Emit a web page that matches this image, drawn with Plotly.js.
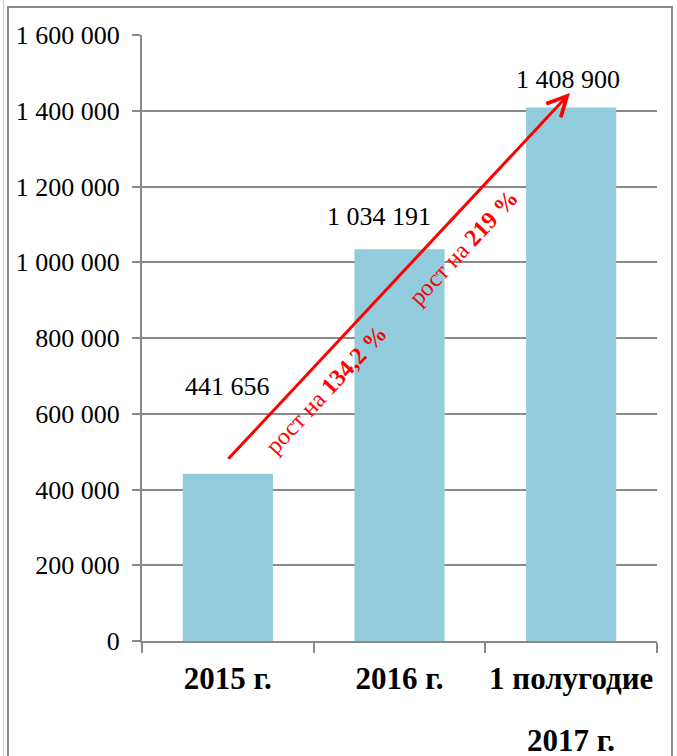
<!DOCTYPE html>
<html>
<head>
<meta charset="utf-8">
<script src="https://cdn.plot.ly/plotly-3.0.1.min.js"></script>
<style>
  body { margin: 0; background: #fff; }
  #wrap { position: relative; width: 677px; height: 756px; }
  #chart { width: 677px; height: 756px; }
  .frame { position: absolute; pointer-events: none; }
</style>
</head>
<body>
<div id="wrap">
  <div id="chart"></div>
  <div class="frame" style="left:3px;top:0;width:1px;height:756px;background:#c8c8c8"></div>
  <div class="frame" style="left:7px;top:6px;width:2px;height:750px;background:#8a8a8a"></div>
  <div class="frame" style="left:7px;top:6px;width:666px;height:2px;background:#8a8a8a"></div>
  <div class="frame" style="left:671px;top:6px;width:2px;height:750px;background:#8a8a8a"></div>
</div>
<script>
// categories and values
const categories = ["2015 г.", "2016 г.", "1 полугодие 2017 г."];
const labelLine1 = ["2015 г.", "2016 г.", "1 полугодие"];
const labelLine2 = ["", "", "2017 г."];
const values = [441656, 1034191, 1408900];
const growthTexts = ["рост на <b>134,2 %</b>", "рост на <b>219 %</b>"];

const serif = "Liberation Serif";

const fmt = v => v.toString().replace(/\B(?=(\d{3})+(?!\d))/g, " ");

const showChart = () => {
    const data = [{
        x: categories,
        y: values,
        type: "bar",
        width: 0.525,
        marker: { color: "#93CDDD" },
        hoverinfo: "skip"
    }];

    // data labels (moved by hand in the original)
    const labelShift = [[0, 71], [-21, 16], [-3, 11]];
    const annotations = values.map((v, i) => ({
        x: categories[i], y: v, xref: "x", yref: "y",
        text: fmt(v), showarrow: false, yanchor: "bottom",
        xshift: labelShift[i][0], yshift: labelShift[i][1],
        font: { family: serif, size: 26, color: "#000" }
    }));

    // second line of category labels
    labelLine2.forEach((t, i) => {
        if (!t) return;
        annotations.push({
            x: categories[i], y: 0, xref: "x", yref: "y",
            text: "<b>" + t + "</b>", showarrow: false, yanchor: "top", yshift: -80,
            font: { family: serif, size: 31, color: "#000" }
        });
    });

    // growth arrow
    annotations.push({
        x: 1.993, y: 1447000, ax: -0.005, ay: 477000,
        xref: "x", yref: "y", axref: "x", ayref: "y",
        text: "", showarrow: true, arrowhead: 5, arrowsize: 1.3,
        arrowwidth: 3, arrowcolor: "#FF0000"
    });

    // growth texts
    const growthPos = [[0.572, 662000], [1.37, 1038000]];
    growthTexts.forEach((t, i) => {
        annotations.push({
            x: growthPos[i][0], y: growthPos[i][1], xref: "x", yref: "y",
            text: t, showarrow: false, textangle: -47,
            font: { family: serif, size: 24, color: "#FF0000" }
        });
    });

    const layout = {
        width: 677, height: 756,
        margin: { l: 142, r: 20, t: 35, b: 115 },
        paper_bgcolor: "rgba(0,0,0,0)",
        plot_bgcolor: "#fff",
        separators: ", ",
        showlegend: false,
        font: { family: serif },
        xaxis: {
            type: "category",
            tickmode: "array", tickvals: categories, ticktext: labelLine1,
            tickson: "boundaries", tickangle: 0, ticklabelstandoff: 9,
            ticks: "outside", ticklen: 10, tickwidth: 2, tickcolor: "#8a8a8a",
            showline: true, linecolor: "#8a8a8a", linewidth: 2,
            showgrid: false,
            tickfont: { family: serif, size: 31, color: "#000", weight: "bold" }
        },
        yaxis: {
            range: [0, 1600000], dtick: 200000, tickformat: ",d",
            ticks: "outside", ticklen: 8, tickwidth: 2, tickcolor: "#8a8a8a",
            ticklabelstandoff: 7,
            showline: true, linecolor: "#8a8a8a", linewidth: 2,
            showgrid: true, gridcolor: "#8a8a8a", gridwidth: 2,
            zeroline: false,
            tickfont: { family: serif, size: 26, color: "#000" }
        },
        annotations: annotations
    };

    Plotly.newPlot("chart", data, layout, { displayModeBar: false, staticPlot: true });
}

showChart();
</script>
</body>
</html>
